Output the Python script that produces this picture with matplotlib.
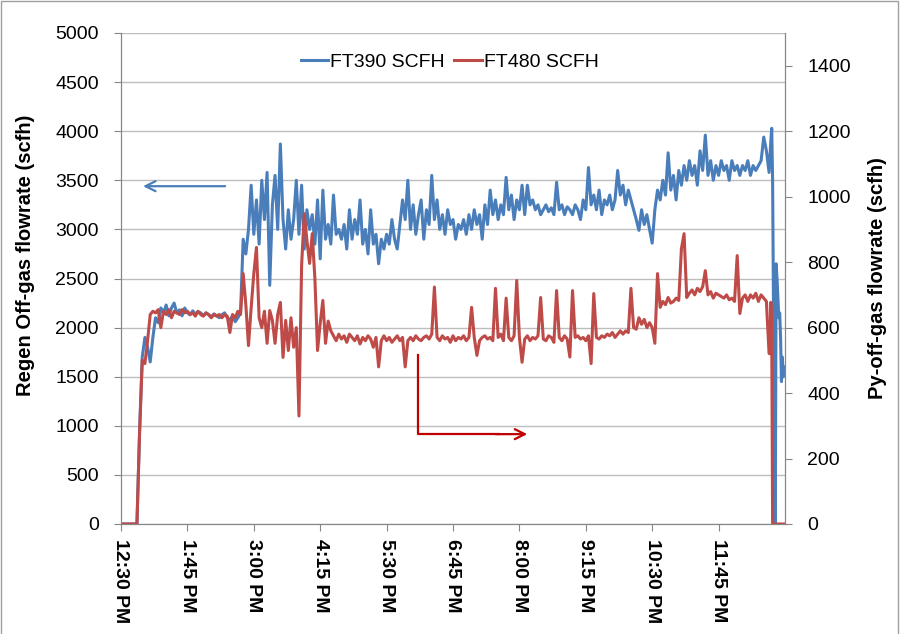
import numpy as np
import matplotlib.pyplot as plt
from matplotlib.patches import Rectangle

# samples every 3 minutes from 12:30 PM, then a 1-minute tail at shutdown
step = 3
ft390 = [0, 0, 0, 0, 0, 0, 0, 950, 1700, 1900,
         1800, 1650, 1900, 2100, 2050, 2200, 2150, 2230, 2120, 2200,
         2250, 2150, 2180, 2120, 2200, 2150, 2130, 2170, 2140, 2160,
         2150, 2120, 2150, 2130, 2110, 2140, 2120, 2100, 2130, 2150,
         2100, 2080, 2120, 2060, 2100, 2150, 2900, 2750, 3000, 3450,
         2950, 3300, 2850, 3500, 3100, 3580, 2430, 3250, 3550, 3000,
         3870, 3100, 2800, 3200, 2900, 3100, 3500, 2950, 3450, 2800,
         3200, 3000, 3150, 2850, 3300, 2700, 3400, 2900, 3050, 2850,
         3350, 2950, 3000, 2900, 3050, 2800, 3200, 2900, 3100, 2950,
         3300, 2850, 3000, 2750, 3200, 2850, 2950, 2650, 2900, 2800,
         2950, 2850, 3100, 2900, 2800, 3050, 3300, 3100, 3500, 3000,
         3250, 2950, 3150, 3300, 2900, 3200, 3050, 3550, 3100, 3300,
         3000, 3150, 2950, 3200, 3050, 3100, 2900, 3050, 3000, 3100,
         2950, 3150, 3000, 3200, 3050, 3150, 2900, 3250, 3050, 3400,
         3150, 3300, 3100, 3250, 3150, 3530, 3200, 3350, 3100, 3300,
         3200, 3450, 3150, 3450, 3250, 3300, 3200, 3250, 3150, 3200,
         3250, 3180, 3220, 3150, 3480, 3200, 3250, 3150, 3230, 3200,
         3150, 3250, 3200, 3100, 3300, 3200, 3630, 3250, 3350, 3200,
         3400, 3150, 3300, 3250, 3350, 3200, 3300, 3600, 3350, 3450,
         3250, 3400, 3300, 3200, 3100, 2990, 3200, 3050, 3150, 3000,
         2860, 3200, 3400, 3300, 3500, 3350, 3780, 3400, 3550, 3300,
         3600, 3450, 3650, 3500, 3700, 3550, 3650, 3450, 3800, 3600,
         3960, 3550, 3700, 3500, 3650, 3550, 3700, 3600, 3650, 3500,
         3700, 3600, 3650, 3550, 3650, 3600, 3700, 3550, 3650, 3600,
         3650, 3700, 3940, 3800, 3580]
ft480 = [0, 0, 0, 0, 0, 0, 0, 280, 500, 490,
         560, 640, 650, 645, 655, 600, 650, 640, 655, 630,
         650, 645, 640, 655, 645, 650, 640, 645, 635, 650,
         640, 635, 645, 640, 630, 640, 635, 640, 630, 640,
         635, 585, 640, 630, 650, 640, 765, 670, 545, 660,
         765, 845, 630, 600, 650, 552, 652, 622, 552, 640,
         677, 509, 622, 530, 630, 540, 600, 330, 790, 948,
         866, 796, 887, 750, 530, 613, 683, 552, 620, 590,
         575, 560, 580, 565, 575, 555, 580, 570, 560, 575,
         550, 570, 560, 575, 565, 540, 570, 480, 560, 575,
         560, 570, 555, 565, 575, 560, 570, 480, 560, 570,
         560, 575, 565, 560, 570, 575, 565, 580, 724, 570,
         560, 575, 565, 570, 555, 575, 560, 570, 565, 575,
         560, 570, 662, 570, 515, 560, 570, 575, 565, 570,
         560, 720, 570, 580, 560, 690, 570, 560, 575, 744,
         570, 494, 565, 575, 560, 570, 565, 575, 692, 565,
         560, 575, 570, 555, 713, 570, 560, 575, 565, 510,
         713, 570, 575, 565, 570, 560, 575, 490, 704, 570,
         565, 575, 570, 580, 575, 585, 570, 580, 590, 580,
         590, 585, 720, 600, 595, 630, 610, 625, 600, 615,
         600, 552, 765, 662, 680, 670, 692, 675, 680, 690,
         683, 841, 887, 692, 705, 715, 700, 720, 710, 725,
         774, 700, 710, 690, 705, 700, 695, 690, 700, 685,
         690, 680, 820, 643, 690, 700, 680, 700, 690, 705,
         680, 700, 690, 680, 521]

tail_t = list(range(733, 750))
ft390_tail = [3750, 3900, 4030, 3500, 2180, 600, 0, 2650, 2500, 2300,
              2100, 2150, 1900, 1450, 1700, 1500, 1600]
ft480_tail = [520, 677, 600, 0, 0, 0, 0, 0, 0, 0,
              0, 0, 0, 0, 0, 0, 0]

tick_min = list(range(0, 676, 75))
tick_lab = ['12:30 PM', '1:45 PM', '3:00 PM', '4:15 PM', '5:30 PM',
            '6:45 PM', '8:00 PM', '9:15 PM', '10:30 PM', '11:45 PM']

t = np.concatenate([np.arange(len(ft390)) * step, tail_t])
blue = np.concatenate([ft390, ft390_tail])
red = np.concatenate([ft480, ft480_tail])

plt.rcParams['font.family'] = ['Liberation Sans', 'DejaVu Sans']
c_blue = '#4A7EBB'
c_red = '#BE4B48'
c_axis = '#868686'

fig = plt.figure(figsize=(9, 6.34), dpi=100)
ax = fig.add_axes([121/900, 1-524/634, 664/900, 491/634])
ax2 = ax.twinx()

l1, = ax.plot(t, blue, color=c_blue, lw=2.2, label='FT390 SCFH')
l2, = ax2.plot(t, red, color=c_red, lw=2.2, label='FT480 SCFH')

ax.set_xlim(0, 750)
ax.set_ylim(0, 5000)
ax2.set_ylim(0, 1500)
ax.set_yticks(range(0, 5001, 500))
ax2.set_yticks(range(0, 1401, 200))
ax.set_xticks(tick_min)
ax.set_xticklabels(tick_lab, rotation=270, fontweight='bold', fontsize=13)
ax.yaxis.grid(True, color='#BDBDBD', lw=1)
ax.set_axisbelow(True)

for a in (ax, ax2):
    for s in a.spines.values():
        s.set_color(c_axis)
    a.spines['top'].set_visible(False)
    a.tick_params(colors=c_axis, labelcolor='black', labelsize=14, length=5)
ax.tick_params(axis='y', pad=11)
ax2.tick_params(axis='y', pad=11)
ax.tick_params(axis='x', pad=6)

ax.set_ylabel('Regen Off-gas flowrate (scfh)', fontsize=14.5, fontweight='bold')
ax.yaxis.set_label_coords(-0.13, 0.548)
ax2.set_ylabel('Py-off-gas flowrate (scfh)', fontsize=14.5, fontweight='bold',
               rotation=90)
ax2.yaxis.set_label_coords(1.125, 0.5)

ax.legend(handles=[l1, l2], loc='center', bbox_to_anchor=(0.495, 0.941), ncol=2,
          frameon=False, fontsize=14, handlelength=1.4, handletextpad=0.1,
          columnspacing=0.5)

# direction arrows
ax.annotate('', xy=(0.029, 0.688), xytext=(0.161, 0.688), xycoords='axes fraction',
            arrowprops=dict(arrowstyle='->', color=c_blue, lw=1.6, mutation_scale=18))
ax.plot([0.447, 0.447, 0.57], [0.344, 0.183, 0.183], color='#C00000', lw=1.6,
        transform=ax.transAxes, clip_on=False)
ax.annotate('', xy=(0.616, 0.183), xytext=(0.56, 0.183), xycoords='axes fraction',
            arrowprops=dict(arrowstyle='->', color='#C00000', lw=1.6, mutation_scale=18))

fig.patches.append(Rectangle((0.001, -0.1), 0.997, 1.099, transform=fig.transFigure,
                             fill=False, edgecolor='#A0A0A0', lw=1))

fig.savefig('out.png', dpi=100)
